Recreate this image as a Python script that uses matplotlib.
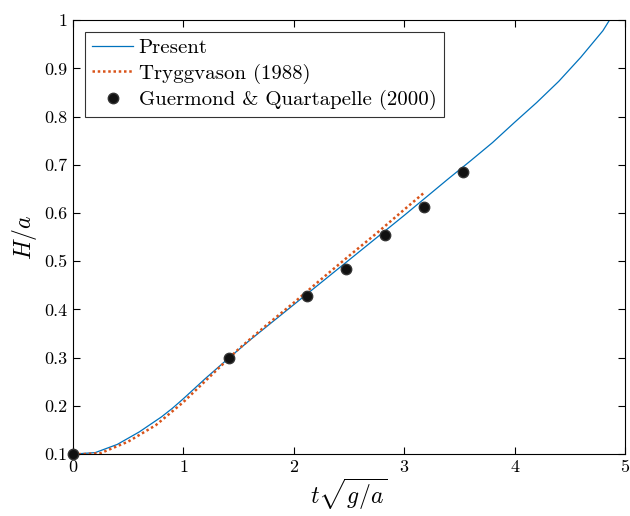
import matplotlib
matplotlib.use("Agg")
import matplotlib.pyplot as plt

plt.rcParams['font.family'] = 'serif'
plt.rcParams['font.serif'] = ['cmr10']
plt.rcParams['mathtext.fontset'] = 'cm'
plt.rcParams['axes.formatter.use_mathtext'] = True

# Present simulation
t_present = [0, 0.2, 0.4, 0.6, 0.8, 0.9, 1.0, 1.2, 1.4, 1.6, 1.8, 2.0, 2.2, 2.4, 2.6,
             2.8, 3.0, 3.2, 3.4, 3.6, 3.8, 4.0, 4.2, 4.4, 4.6, 4.8, 4.86]
h_present = [0.1, 0.103, 0.120, 0.146, 0.177, 0.195, 0.215, 0.257, 0.297, 0.336, 0.373,
             0.41, 0.447, 0.484, 0.521, 0.558, 0.595, 0.633, 0.671, 0.708, 0.746,
             0.788, 0.829, 0.873, 0.923, 0.978, 1.0]

# Tryggvason (1988)
t_tryg = [0, 0.1, 0.25, 0.5, 0.75, 1.0, 1.25, 1.5, 1.75, 2.0, 2.25, 2.5, 2.75, 3.0, 3.19]
h_tryg = [0.1, 0.1, 0.102, 0.126, 0.160, 0.208, 0.263, 0.318, 0.367, 0.414,
          0.463, 0.511, 0.558, 0.607, 0.644]

# Guermond & Quartapelle (2000)
t_gq = [0, 1.41, 2.12, 2.47, 2.83, 3.18, 3.535]
h_gq = [0.1, 0.30, 0.428, 0.483, 0.555, 0.612, 0.684]

fig = plt.figure(figsize=(6.3, 5.16), dpi=100)
ax = fig.add_axes([0.116, 0.12, 0.876, 0.841])

ax.plot(t_present, h_present, color='#0072BD', lw=0.9, label='Present')
ax.plot(t_tryg, h_tryg, color='#D95319', lw=1.8, ls=(0, (1, 1.1)), label='Tryggvason (1988)')
ax.plot(t_gq, h_gq, 'o', color='#111111', mec='#333333', ms=7.5, label='Guermond & Quartapelle (2000)',
        clip_on=False, zorder=5)

ax.set_xlim(0, 5)
ax.set_ylim(0.1, 1)
ax.set_xticks([0, 1, 2, 3, 4, 5])
ax.set_yticks([0.1, 0.2, 0.3, 0.4, 0.5, 0.6, 0.7, 0.8, 0.9, 1.0])
ax.set_xticklabels(['0', '1', '2', '3', '4', '5'])
ax.set_yticklabels(['0.1', '0.2', '0.3', '0.4', '0.5', '0.6', '0.7', '0.8', '0.9', '1'])
ax.tick_params(direction='in', top=True, right=True, length=5, width=0.8, labelsize=13, pad=4)
for s in ax.spines.values():
    s.set_linewidth(0.8)

ax.set_xlabel(r'$t\sqrt{g/a}$', fontsize=17, labelpad=1)
ax.set_ylabel(r'$H/a$', fontsize=17, labelpad=4)

leg = ax.legend(loc='upper left', fontsize=15, frameon=True, fancybox=False,
                edgecolor='black', borderaxespad=0.55, borderpad=0.35, handlelength=2.0,
                handletextpad=0.25, labelspacing=0.3)
leg.get_frame().set_linewidth(0.8)

fig.savefig('out.png', dpi=100)
